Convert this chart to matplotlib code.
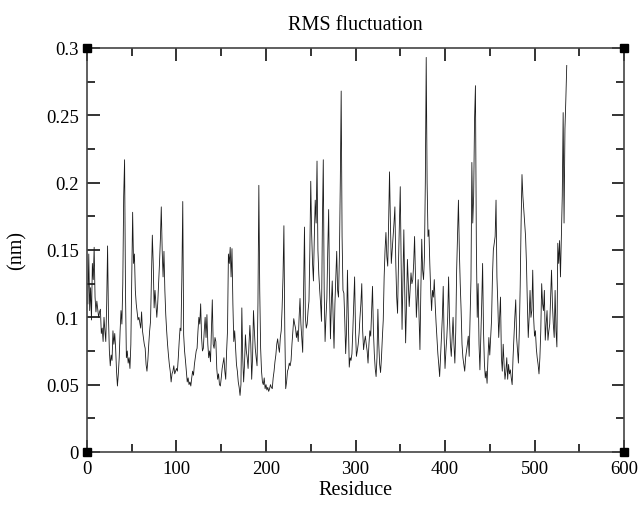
import numpy as np
import matplotlib
matplotlib.use('Agg')
import matplotlib.pyplot as plt
from matplotlib.ticker import MultipleLocator

plt.rcParams['font.family'] = ['Liberation Serif', 'DejaVu Serif']

# RMSF per residue
residue = np.arange(1, 537)

rmsf = [
	# 1-50
	0.110, 0.147, 0.105, 0.122, 0.098, 0.140, 0.128, 0.152, 0.115, 0.104,
	0.112, 0.106, 0.100, 0.104, 0.106, 0.088, 0.092, 0.082, 0.100, 0.090,
	0.082, 0.110, 0.153, 0.100, 0.075, 0.064, 0.072, 0.068, 0.090, 0.080,
	0.088, 0.077, 0.060, 0.049, 0.058, 0.070, 0.090, 0.105, 0.095, 0.125,
	0.190, 0.217, 0.120, 0.070, 0.075, 0.066, 0.070, 0.062, 0.080, 0.130,
	# 51-100
	0.178, 0.140, 0.147, 0.120, 0.110, 0.104, 0.098, 0.100, 0.096, 0.092,
	0.104, 0.090, 0.085, 0.080, 0.077, 0.065, 0.060, 0.068, 0.080, 0.090,
	0.097, 0.130, 0.161, 0.140, 0.107, 0.120, 0.110, 0.100, 0.110, 0.125,
	0.140, 0.158, 0.182, 0.150, 0.130, 0.149, 0.120, 0.102, 0.090, 0.080,
	0.072, 0.065, 0.060, 0.052, 0.058, 0.060, 0.064, 0.058, 0.060, 0.062,
	# 101-150
	0.060, 0.070, 0.082, 0.092, 0.090, 0.130, 0.186, 0.087, 0.075, 0.068,
	0.060, 0.052, 0.055, 0.050, 0.052, 0.049, 0.055, 0.060, 0.057, 0.065,
	0.070, 0.075, 0.077, 0.090, 0.100, 0.095, 0.110, 0.085, 0.075, 0.077,
	0.090, 0.100, 0.085, 0.102, 0.080, 0.070, 0.075, 0.067, 0.090, 0.113,
	0.080, 0.077, 0.085, 0.082, 0.062, 0.054, 0.058, 0.050, 0.049, 0.055,
	# 151-200
	0.062, 0.066, 0.070, 0.060, 0.054, 0.075, 0.090, 0.147, 0.140, 0.152,
	0.130, 0.151, 0.110, 0.082, 0.090, 0.077, 0.065, 0.060, 0.052, 0.048,
	0.042, 0.050, 0.107, 0.070, 0.052, 0.065, 0.087, 0.075, 0.070, 0.062,
	0.080, 0.094, 0.080, 0.054, 0.070, 0.105, 0.090, 0.077, 0.070, 0.064,
	0.110, 0.198, 0.120, 0.077, 0.060, 0.052, 0.050, 0.055, 0.047, 0.050,
	# 201-250
	0.046, 0.048, 0.045, 0.047, 0.050, 0.048, 0.047, 0.055, 0.060, 0.067,
	0.072, 0.080, 0.084, 0.078, 0.074, 0.085, 0.090, 0.107, 0.130, 0.168,
	0.090, 0.047, 0.052, 0.060, 0.062, 0.066, 0.064, 0.068, 0.080, 0.090,
	0.099, 0.095, 0.092, 0.085, 0.090, 0.082, 0.100, 0.114, 0.095, 0.085,
	0.074, 0.120, 0.167, 0.100, 0.092, 0.095, 0.105, 0.112, 0.150, 0.201,
	# 251-300
	0.162, 0.140, 0.127, 0.160, 0.187, 0.170, 0.216, 0.150, 0.132, 0.120,
	0.110, 0.097, 0.170, 0.217, 0.120, 0.082, 0.100, 0.114, 0.150, 0.180,
	0.120, 0.084, 0.110, 0.127, 0.100, 0.077, 0.110, 0.130, 0.149, 0.120,
	0.115, 0.145, 0.200, 0.268, 0.160, 0.120, 0.118, 0.098, 0.073, 0.090,
	0.135, 0.100, 0.063, 0.070, 0.068, 0.073, 0.090, 0.110, 0.130, 0.090,
	# 301-350
	0.071, 0.075, 0.080, 0.088, 0.100, 0.110, 0.125, 0.090, 0.076, 0.082,
	0.086, 0.080, 0.075, 0.066, 0.080, 0.090, 0.086, 0.105, 0.123, 0.090,
	0.073, 0.062, 0.056, 0.070, 0.106, 0.080, 0.065, 0.059, 0.070, 0.085,
	0.098, 0.130, 0.150, 0.163, 0.145, 0.138, 0.170, 0.208, 0.170, 0.140,
	0.150, 0.160, 0.170, 0.182, 0.140, 0.115, 0.103, 0.140, 0.170, 0.197,
	# 351-400
	0.140, 0.091, 0.130, 0.165, 0.120, 0.081, 0.110, 0.143, 0.125, 0.108,
	0.120, 0.133, 0.125, 0.128, 0.140, 0.160, 0.130, 0.100, 0.115, 0.128,
	0.100, 0.076, 0.120, 0.158, 0.135, 0.128, 0.145, 0.200, 0.293, 0.200,
	0.160, 0.165, 0.140, 0.120, 0.105, 0.120, 0.115, 0.128, 0.110, 0.096,
	0.085, 0.073, 0.065, 0.056, 0.070, 0.085, 0.100, 0.123, 0.085, 0.062,
	# 401-450
	0.075, 0.085, 0.100, 0.130, 0.100, 0.080, 0.071, 0.085, 0.100, 0.080,
	0.066, 0.090, 0.135, 0.160, 0.187, 0.150, 0.125, 0.105, 0.080, 0.070,
	0.065, 0.060, 0.070, 0.075, 0.080, 0.086, 0.071, 0.100, 0.128, 0.215,
	0.170, 0.190, 0.247, 0.272, 0.155, 0.100, 0.125, 0.080, 0.061, 0.085,
	0.110, 0.140, 0.090, 0.066, 0.055, 0.060, 0.051, 0.070, 0.085, 0.072,
	# 451-500
	0.085, 0.098, 0.130, 0.150, 0.155, 0.160, 0.187, 0.130, 0.110, 0.085,
	0.100, 0.115, 0.070, 0.060, 0.080, 0.065, 0.054, 0.060, 0.070, 0.054,
	0.065, 0.058, 0.061, 0.055, 0.050, 0.070, 0.085, 0.100, 0.113, 0.085,
	0.075, 0.066, 0.090, 0.123, 0.170, 0.206, 0.190, 0.180, 0.170, 0.160,
	0.140, 0.110, 0.085, 0.100, 0.120, 0.100, 0.105, 0.135, 0.100, 0.086,
	# 501-536
	0.090, 0.077, 0.070, 0.065, 0.058, 0.070, 0.090, 0.125, 0.110, 0.105,
	0.120, 0.083, 0.095, 0.105, 0.083, 0.090, 0.095, 0.115, 0.135, 0.110,
	0.095, 0.085, 0.120, 0.090, 0.078, 0.155, 0.140, 0.157, 0.130, 0.160,
	0.190, 0.252, 0.170, 0.240, 0.262, 0.287,
]

fig = plt.figure(figsize=(6.42, 5.10), dpi=100)
ax = fig.add_axes([0.1355, 0.1118, 0.8365, 0.7922])

ax.plot(residue, rmsf, color='#1a1a1a', lw=0.6)

ax.set_xlim(0, 600)
ax.set_ylim(0, 0.3)
ax.xaxis.set_major_locator(MultipleLocator(100))
ax.xaxis.set_minor_locator(MultipleLocator(50))
ax.yaxis.set_minor_locator(MultipleLocator(0.025))
ax.set_yticks([0, 0.05, 0.1, 0.15, 0.2, 0.25, 0.3])
ax.set_yticklabels(['0', '0.05', '0.1', '0.15', '0.2', '0.25', '0.3'])

ax.tick_params(which='both', direction='in', top=True, right=True,
			   labelsize=13.5, color='#111', width=1.2)
ax.tick_params(which='major', length=9, pad=6)
ax.tick_params(which='minor', length=5.5)
for s in ax.spines.values():
	s.set_color('#444')
	s.set_linewidth(1.2)

# square markers at the frame corners
x0, x1 = ax.get_xlim()
y0, y1 = ax.get_ylim()
ax.plot([x0, x1, x0, x1], [y0, y0, y1, y1], 's', color='black', ms=5.5,
		clip_on=False, zorder=5)

ax.set_title('RMS fluctuation', fontsize=14.5, pad=14)
ax.set_xlabel('Residuce', fontsize=14.5, labelpad=2)
ax.set_ylabel('(nm)', fontsize=14.5, labelpad=14)

plt.savefig('out.png', dpi=100)
